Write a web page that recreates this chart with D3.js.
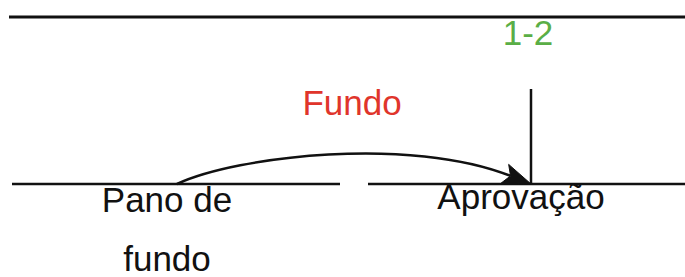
<!DOCTYPE html>
<html lang="pt">
<head>
  <meta charset="UTF-8">
  <title>Fundo</title>
  <script src="https://d3js.org/d3.v7.min.js"></script>
  <style>
    body { margin: 0; background: #fff; }
    svg text { font-family: "Liberation Sans", Arial, sans-serif; font-size: 35px; }
    .line { stroke: #111; stroke-width: 2.5; fill: none; }
    .head { fill: #111; stroke: #111; stroke-width: 1; stroke-linejoin: round; }
  </style>
</head>
<body>
  <script>
    // stages along the timeline (0 = start, 1 = approval)
    const stages = ["Pano de fundo", "Aprovação"];
    const stagePos = [0, 1];
    const flowLabel = ["Fundo"];
    const markLabel = ["1-2"];

    const width = 685, height = 277;
    const baseY = 184, topY = 17;

    const x = d3.scaleLinear().domain([0, 1]).range([177, 531]);

    const svg = d3.select("body").append("svg")
      .attr("width", width).attr("height", height);

    // top line
    svg.append("line").attr("class", "line")
      .attr("x1", 9).attr("x2", width).attr("y1", topY).attr("y2", topY)
      .style("stroke-width", 3);

    // base timeline, broken in two
    svg.append("line").attr("class", "line")
      .attr("x1", 12).attr("x2", 340).attr("y1", baseY).attr("y2", baseY);
    svg.append("line").attr("class", "line")
      .attr("x1", 368).attr("x2", width).attr("y1", baseY).attr("y2", baseY);

    // vertical marker at approval
    svg.append("line").attr("class", "line")
      .attr("x1", x(stagePos[1])).attr("x2", x(stagePos[1]))
      .attr("y1", 89).attr("y2", baseY);

    svg.append("text")
      .attr("x", x(stagePos[1]) - 3).attr("y", 45)
      .attr("text-anchor", "middle").attr("fill", "#5aae46")
      .text(markLabel[0]);

    // curved flow arrow
    const x0 = x(stagePos[0]), x1 = x(stagePos[1]);
    const c1 = [x0 + 60, baseY - 28], c2 = [x0 + 233, baseY - 48];
    const ang = Math.atan2(baseY - c2[1], x1 - c2[0]);
    const ux = Math.cos(ang), uy = Math.sin(ang);
    const len = 28, half = 10, notch = 6;
    const endX = x1 - (len - notch) * ux, endY = baseY - (len - notch) * uy;

    const p = d3.path();
    p.moveTo(x0, baseY);
    p.bezierCurveTo(c1[0], c1[1], c2[0], c2[1], endX, endY);
    svg.append("path").attr("class", "line").attr("d", p.toString());

    const head = [
      [x1, baseY],
      [x1 - len * ux - half * uy, baseY - len * uy + half * ux],
      [endX, endY],
      [x1 - len * ux + half * uy, baseY - len * uy - half * ux]
    ];
    svg.append("path").attr("class", "head")
      .attr("d", d3.line()(head) + "Z");

    svg.append("text")
      .attr("x", 352).attr("y", 115)
      .attr("text-anchor", "middle").attr("fill", "#e0352b")
      .text(flowLabel[0]);

    // stage labels
    const first = stages[0].split(" de ");
    svg.append("text")
      .attr("x", 167).attr("y", 212).attr("text-anchor", "middle").attr("fill", "#111")
      .text(first[0] + " de");
    svg.append("text")
      .attr("x", 167).attr("y", 271).attr("text-anchor", "middle").attr("fill", "#111")
      .text(first[1]);

    svg.append("text")
      .attr("x", 521).attr("y", 209).attr("text-anchor", "middle").attr("fill", "#111")
      .text(stages[1]);
  </script>
</body>
</html>
